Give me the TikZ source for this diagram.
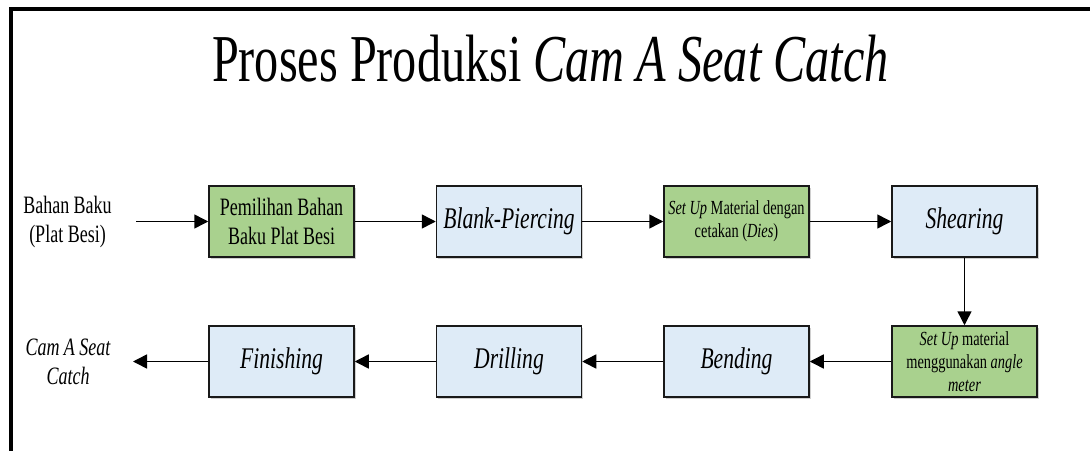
\documentclass[tikz,border=0pt]{standalone}
\usepackage{fontspec}
\setmainfont{Liberation Serif}[FakeStretch=0.72]
\usetikzlibrary{arrows.meta,shadows}
\newcommand{\fsz}[2]{\fontsize{#1}{#2}\selectfont}
\definecolor{stepgreen}{HTML}{A9D18E}
\definecolor{stepblue}{HTML}{DEEBF7}
\tikzset{
  procbox/.style={draw=black!90, line width=1.5pt, minimum width=145pt,
    minimum height=71pt, inner sep=2pt, align=center,
    drop shadow={shadow xshift=1.5pt, shadow yshift=-1.5pt, fill=black!30, opacity=0.6}},
  greenbox/.style={procbox, fill=stepgreen},
  bluebox/.style={procbox, fill=stepblue, font=\fsz{30}{34}\itshape},
  flow/.style={line width=1.5pt, -{Triangle[length=14pt,width=14pt]}},
  plain/.style={align=center, inner sep=0pt}
}
\begin{document}
\begin{tikzpicture}[x=1pt,y=-1pt]
\useasboundingbox (0,0) rectangle (1090,450);
\fill[white] (0,0) rectangle (1090,450);
% outer frame (left and top edges)
\draw[line width=4pt] (11.3,452) -- (11.3,9) -- (1092,9);

% title
\node[anchor=base, inner sep=0pt, font=\fsz{67}{70}] (title) at (550.4,81)
  {Proses Produksi \textit{Cam A Seat Catch}};

% upper row
\node[greenbox, font=\fsz{25}{29}] (b1) at (281.5,221.5) {Pemilihan Bahan\\Baku Plat Besi};
\node[bluebox] (b2) at (509,221.5) {Blank-Piercing};
\node[greenbox, font=\fsz{20}{23}] (b3) at (736.5,221.5) {\textit{Set Up} Material dengan\\cetakan (\textit{Dies})};
\node[bluebox] (b4) at (964.5,221.5) {Shearing};

% lower row
\node[greenbox, font=\fsz{20}{23}] (b5) at (964.5,361.5) {\textit{Set Up} material\\menggunakan \textit{angle}\\\textit{meter}};
\node[bluebox] (b6) at (736.5,361.5) {Bending};
\node[bluebox] (b7) at (509,361.5) {Drilling};
\node[bluebox] (b8) at (281.5,361.5) {Finishing};

% input and output labels
\node[plain, font=\fsz{25}{29}] (input) at (67.5,222) {Bahan Baku\\(Plat Besi)};
\node[plain, font=\fsz{25}{29}\itshape] (output) at (68,362) {Cam A Seat\\Catch};
\coordinate (inStart) at (136,221.5);
\coordinate (outEnd) at (133,361.5);

% connectors
\draw[flow] (inStart) -- (b1);
\draw[flow] (b1) -- (b2);
\draw[flow] (b2) -- (b3);
\draw[flow] (b3) -- (b4);
\draw[flow] (b4) -- (b5);
\draw[flow] (b5) -- (b6);
\draw[flow] (b6) -- (b7);
\draw[flow] (b7) -- (b8);
\draw[flow] (b8) -- (outEnd);
\end{tikzpicture}
\end{document}
